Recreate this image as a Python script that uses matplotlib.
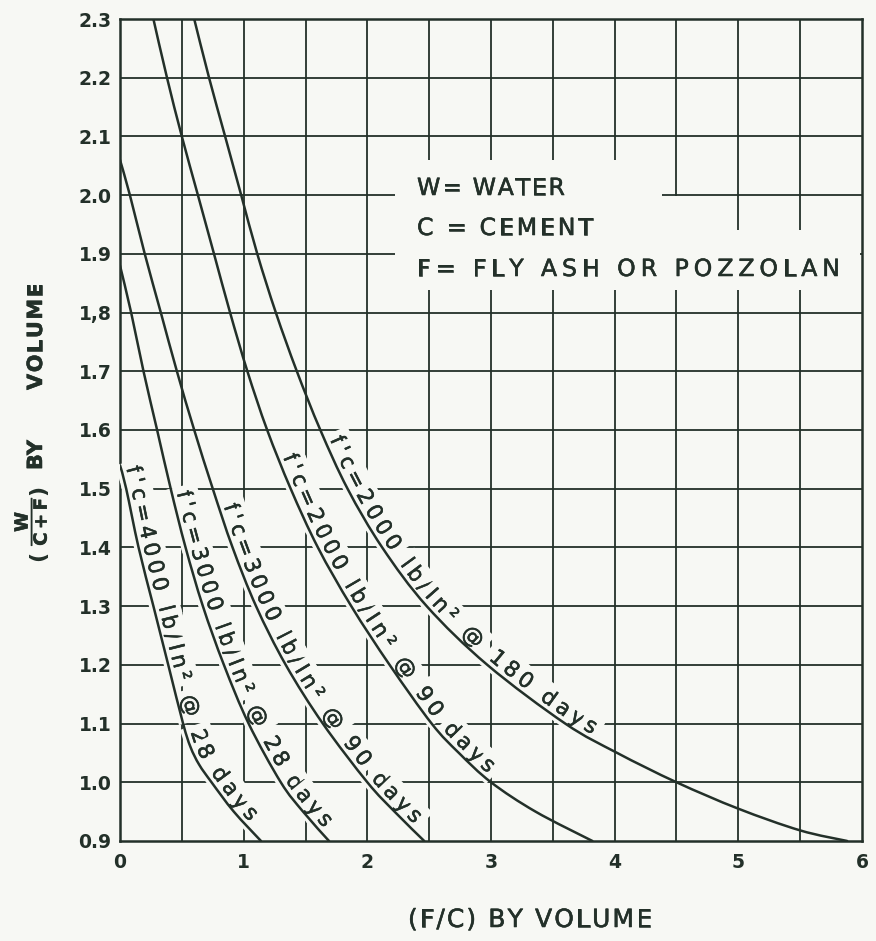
import numpy as np
import matplotlib
matplotlib.use("Agg")
import matplotlib.pyplot as plt
import matplotlib.patheffects as pe
from matplotlib.font_manager import FontProperties
from matplotlib.patches import Rectangle, PathPatch
from matplotlib.path import Path
from matplotlib.transforms import IdentityTransform

x_4000_28 = [0.0, 0.05, 0.15, 0.27, 0.39, 0.51, 0.57, 0.64, 0.74, 0.92, 1.14]
y_4000_28 = [1.54, 1.50, 1.40, 1.30, 1.20, 1.10, 1.06, 1.03, 1.00, 0.95, 0.90]

x_3000_28 = [0.0, 0.09, 0.19, 0.30, 0.41, 0.53, 0.67, 0.84, 1.04, 1.30, 1.48, 1.69]
y_3000_28 = [1.88, 1.80, 1.70, 1.60, 1.50, 1.40, 1.30, 1.20, 1.10, 1.00, 0.95, 0.90]

x_3000_90 = [0.0, 0.08, 0.20, 0.33, 0.46, 0.60, 0.75, 0.91, 1.10, 1.34, 1.64, 2.00,
             2.22, 2.46]
y_3000_90 = [2.06, 2.00, 1.90, 1.80, 1.70, 1.60, 1.50, 1.40, 1.30, 1.20, 1.10, 1.00,
             0.95, 0.90]

x_2000_90 = [0.27, 0.38, 0.50, 0.63, 0.76, 0.89, 1.03, 1.19, 1.38, 1.60, 1.87, 2.18,
             2.52, 2.74, 3.00, 3.36, 3.82]
y_2000_90 = [2.30, 2.20, 2.10, 2.00, 1.90, 1.80, 1.70, 1.60, 1.50, 1.40, 1.30, 1.20,
             1.10, 1.05, 1.00, 0.95, 0.90]

x_2000_180 = [0.60, 0.72, 0.85, 0.98, 1.11, 1.26, 1.43, 1.62, 1.84, 2.12, 2.48, 2.97,
              3.60, 4.02, 4.50, 5.00, 5.50, 5.88]
y_2000_180 = [2.30, 2.20, 2.10, 2.00, 1.90, 1.80, 1.70, 1.60, 1.50, 1.40, 1.30, 1.20,
              1.10, 1.05, 1.00, 0.955, 0.918, 0.90]

# curve, its label, and the stretch of curve (by F/C) the label runs along
curves = [
    (x_4000_28, y_4000_28, "f'c=4000 lb/In² @ 28 days", 0.01, 1.02),
    (x_3000_28, y_3000_28, "f'c=3000 lb/In² @ 28 days", 0.42, 1.62),
    (x_3000_90, y_3000_90, "f'c=3000 lb/In² @ 90 days", 0.80, 2.35),
    (x_2000_90, y_2000_90, "f'c=2000 lb/In² @ 90 days", 1.28, 2.95),
    (x_2000_180, y_2000_180, "f'c=2000 lb/In² @ 180 days", 1.66, 3.80),
]

legend_lines = ["W= WATER", "C = CEMENT", "F= FLY ASH OR POZZOLAN"]

x_ticks = [0, 1, 2, 3, 4, 5, 6]
y_ticks = [0.9, 1.0, 1.1, 1.2, 1.3, 1.4, 1.5, 1.6, 1.7, 1.8, 1.9, 2.0, 2.1, 2.2, 2.3]
y_ticklabels = ["0.9", "1.0", "1.1", "1.2", "1.3", "1.4", "1.5", "1.6", "1.7", "1,8",
                "1.9", "2.0", "2.1", "2.2", "2.3"]

INK = "#233029"
PAPER = "#f7f8f4"
DPI = 100
H = 941  # figure height in px, text placement below is measured from the top
HEAVY = [pe.withStroke(linewidth=0.4, foreground=INK)]  # slightly thicker pen strokes

plt.rcParams["font.family"] = ["DejaVu Sans"]
plt.rcParams["mathtext.default"] = "regular"

fig = plt.figure(figsize=(8.76, 9.41), dpi=DPI, facecolor=PAPER)
ax = fig.add_axes([0.137, 0.1063, 0.847, 0.8735], facecolor=PAPER)
ax.set_xlim(0, 6)
ax.set_ylim(0.9, 2.3)

# graph grid: every 0.5 across, every 0.1 up
for gx in np.arange(0.5, 6.0, 0.5):
    ax.axvline(gx, color=INK, lw=1.3, zorder=1)
for gy in np.arange(1.0, 2.3, 0.1):
    ax.axhline(gy, color=INK, lw=1.3, zorder=1)
for sp in ax.spines.values():
    sp.set_color(INK)
    sp.set_linewidth(1.8)

ax.set_xticks(x_ticks)
ax.set_xticklabels([str(t) for t in x_ticks])
ax.set_yticks(y_ticks)
ax.set_yticklabels(y_ticklabels)
ax.tick_params(length=0, labelsize=13.5, colors=INK)
ax.tick_params(axis="x", pad=9)
ax.tick_params(axis="y", pad=6)
for lab in ax.get_xticklabels() + ax.get_yticklabels():
    lab.set_fontweight("bold")

renderer = fig.canvas.get_renderer()


def smooth_path(xs, ys):
    # Catmull-Rom through the read points, as cubic Bezier pieces
    p = np.column_stack([xs, ys])
    p = np.vstack([p[0], p, p[-1]])
    verts = [p[1]]
    codes = [Path.MOVETO]
    for i in range(1, len(p) - 2):
        c1 = p[i] + (p[i + 1] - p[i - 1]) / 6
        c2 = p[i + 1] - (p[i + 2] - p[i]) / 6
        verts += [c1, c2, p[i + 1]]
        codes += [Path.CURVE4] * 3
    return Path(np.array(verts), codes)


def char_width(ch, fp):
    w_pad = renderer.get_text_width_height_descent("||", fp, ismath=False)[0]
    w_all = renderer.get_text_width_height_descent("|" + ch + "|", fp, ismath=False)[0]
    return w_all - w_pad


def spaced_text(x0, y0, s, fp, length, angle=0.0):
    """Lay s out letter by letter from (x0, y0) (px from top-left), stretched to length."""
    widths = [char_width(c, fp) for c in s]
    track = (length - sum(widths)) / (len(s) - 1)
    d = np.array([np.cos(np.radians(angle)), np.sin(np.radians(angle))])
    start = np.array([x0, H - y0])
    pos = 0.0
    for ch, w in zip(s, widths):
        c = start + d * (pos + w / 2)
        pos += w + track
        if ch == " ":
            continue
        fig.text(c[0], c[1], ch, transform=IdentityTransform(), fontproperties=fp,
                 color=INK, rotation=angle, rotation_mode="anchor",
                 ha="center", va="baseline", zorder=4, path_effects=HEAVY)


def text_on_curve(path, label, x_start, x_end, fp, offset=5.0):
    pts = ax.transData.transform_path(path).to_polygons(closed_only=False)[0]
    xd = ax.transData.inverted().transform(pts)[:, 0]
    seg = np.hypot(*np.diff(pts, axis=0).T)
    arc = np.concatenate([[0.0], np.cumsum(seg)])
    s0 = np.interp(x_start, xd, arc)
    s1 = np.interp(x_end, xd, arc)
    widths = np.array([char_width(c, fp) for c in label])
    gap = (s1 - s0 - widths.sum()) / (len(label) - 1)
    pos = s0
    inv = ax.transData.inverted()

    def at(s):
        return np.array([np.interp(s, arc, pts[:, 0]), np.interp(s, arc, pts[:, 1])])

    for ch, w in zip(label, widths):
        sc = pos + w / 2
        pos += w + gap
        if ch == " ":
            continue
        d = at(sc + 4) - at(sc - 4)
        d = d / np.hypot(*d)
        normal = np.array([-d[1], d[0]])
        px, py = inv.transform(at(sc) + normal * offset)
        ang = np.degrees(np.arctan2(d[1], d[0]))
        ax.text(px, py, ch, fontproperties=fp, color=INK, rotation=ang,
                rotation_mode="anchor", ha="center", va="baseline", zorder=3,
                path_effects=HEAVY,
                bbox=dict(boxstyle="square,pad=0.25", fc=PAPER, ec="none"))


# legend block, with the grid cleared behind it
for (x0, y0, x1, y1) in [(395, 160, 662, 290), (662, 196, 735, 290), (735, 230, 860, 290)]:
    ax.add_patch(Rectangle((x0, H - y1), x1 - x0, y1 - y0, transform=IdentityTransform(),
                           fc=PAPER, ec="none", zorder=2))
fp_leg = FontProperties(family="DejaVu Sans", size=17)
for txt, base, right in zip(legend_lines, [195, 235, 276], [565, 593, 840]):
    spaced_text(417, base, txt, fp_leg, right - 417)

# axis titles
fp_ax = FontProperties(family="DejaVu Sans", size=18)
spaced_text(408, 927, "(F/C) BY VOLUME", fp_ax, 244)

fp_y = FontProperties(family="DejaVu Sans", size=15, weight="bold")
spaced_text(42, 470, "BY", fp_y, 30, angle=90)
spaced_text(42, 390, "VOLUME", fp_y, 107, angle=90)
fig.text(38, H - 490, ")", transform=IdentityTransform(), fontsize=16, color=INK,
         fontweight="bold", rotation=90, ha="center", va="center")
fig.text(38, H - 556, "(", transform=IdentityTransform(), fontsize=16, color=INK,
         fontweight="bold", rotation=90, ha="center", va="center")
fig.text(30, H - 521, r"$\dfrac{W}{C+F}$", transform=IdentityTransform(), fontsize=13,
         color=INK, fontweight="bold", rotation=90, ha="center", va="center",
         path_effects=HEAVY)

fp_lab = FontProperties(family="DejaVu Sans", size=15.5)
for xs, ys, label, xa, xb in curves:
    path = smooth_path(xs, ys)
    ax.add_patch(PathPatch(path, fill=False, ec=INK, lw=1.8, zorder=5,
                           capstyle="round", joinstyle="round"))
    text_on_curve(path, label, xa, xb, fp_lab)

fig.savefig("out.png", dpi=DPI, facecolor=PAPER)
